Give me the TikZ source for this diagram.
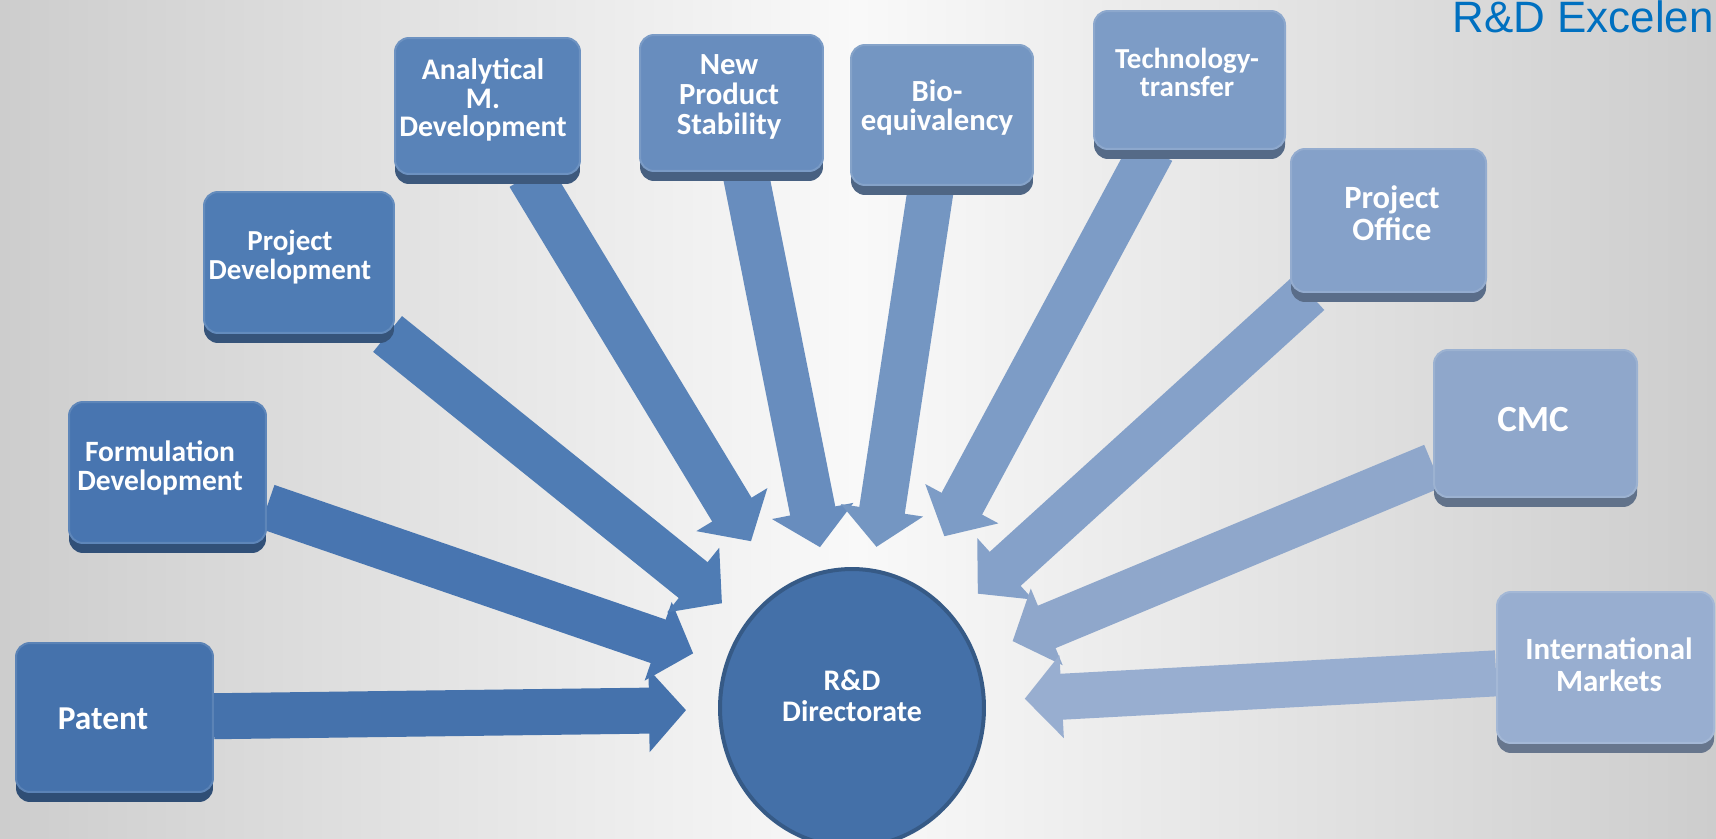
\documentclass[tikz,border=0pt]{standalone}
\usepackage{fontspec}
\setmainfont{Carlito}
\newfontfamily\titlefont{Liberation Sans}
\usetikzlibrary{arrows.meta,shadows,shapes.geometric}
\definecolor{c1}{RGB}{69,114,172}
\definecolor{c2}{RGB}{72,117,176}
\definecolor{c3}{RGB}{79,124,180}
\definecolor{c4}{RGB}{89,131,184}
\definecolor{c5}{RGB}{104,141,190}
\definecolor{c6}{RGB}{116,150,194}
\definecolor{c7}{RGB}{125,156,198}
\definecolor{c8}{RGB}{133,161,201}
\definecolor{c9}{RGB}{143,167,203}
\definecolor{c10}{RGB}{152,174,208}
\definecolor{hubc}{RGB}{68,112,168}
\definecolor{bgedge}{RGB}{205,205,205}
\definecolor{bgmid}{RGB}{249,249,249}
\definecolor{titleblue}{RGB}{0,112,192}
\newcommand\boxfont[2]{\fontsize{#1}{#2}\selectfont\bfseries}
\pgfdeclarelayer{backdrop}
\pgfdeclarelayer{arrowlayer}
\pgfsetlayers{backdrop,arrowlayer,main}
\tikzset{
  box/.style={rounded corners=0.28cm, fill=#1, draw=#1!88!white, line width=0.04cm,
    inner sep=0pt, general shadow={fill=#1!68!black, shadow yshift=-0.2cm}},
  boxtext/.style={text=white, align=center, inner sep=0pt},
  hub/.style={ellipse, fill=hubc, draw=hubc!80!black, line width=0.08cm,
    minimum width=5.28cm, minimum height=5.56cm, inner sep=0pt},
  inarrow/.style={draw=#1, line width=0.92cm, -{Triangle[width=1.62cm,length=0.74cm]}},
  titletext/.style={text=titleblue, font=\titlefont\fontsize{25}{25}\selectfont, inner sep=0pt}
}
\begin{document}
\begin{tikzpicture}[x=0.02cm, y=-0.02cm]
\useasboundingbox (0,0) rectangle (1716,838);
\begin{pgfonlayer}{backdrop}
  \shade[left color=bgedge, right color=bgedge, middle color=bgmid] (0,0) rectangle (1716,838);
\end{pgfonlayer}

\node[titletext, anchor=base east] (title) at (1714,33) {R\&D Excelen};

% hub
\node[hub] (rd) at (852,708) {};
\node[boxtext, font=\boxfont{17}{17.5}] (rdtext) at (852,696) {R\&D\\Directorate};

% boxes
\node[box=c1, minimum width=3.94cm, minimum height=2.98cm] (patent) at (114.5,717.5) {};
\node[box=c2, minimum width=3.94cm, minimum height=2.82cm] (form) at (167.5,472.5) {};
\node[box=c3, minimum width=3.80cm, minimum height=2.82cm] (projdev) at (299,262.5) {};
\node[box=c4, minimum width=3.70cm, minimum height=2.72cm] (anal) at (487.5,106) {};
\node[box=c5, minimum width=3.66cm, minimum height=2.72cm] (nps) at (731.5,103) {};
\node[box=c6, minimum width=3.64cm, minimum height=2.80cm] (bio) at (942,115) {};
\node[box=c7, minimum width=3.82cm, minimum height=2.76cm] (tech) at (1189.5,80) {};
\node[box=c8, minimum width=3.90cm, minimum height=2.86cm] (po) at (1388.5,220.5) {};
\node[box=c9, minimum width=4.06cm, minimum height=2.94cm] (cmc) at (1535.5,423.5) {};
\node[box=c10, minimum width=4.34cm, minimum height=3.02cm] (intl) at (1605.5,667.5) {};

% box labels
\node[boxtext, font=\boxfont{19}{19}] (patenttext) at (103,719) {Patent};
\node[boxtext, font=\boxfont{16.8}{16.7}] (formtext) at (160,468) {Formulation\\Development};
\node[boxtext, font=\boxfont{16.5}{16.7}] (projdevtext) at (290,257) {Project\\Development};
\node[boxtext, font=\boxfont{17}{16.1}] (analtext) at (483,100) {Analytical\\M.\\Development};
\node[boxtext, font=\boxfont{17.5}{17}] (npstext) at (729,97) {New\\Product\\Stability};
\node[boxtext, font=\boxfont{17.5}{16.7}] (biotext) at (937,107.5) {Bio-\\equivalency};
\node[boxtext, font=\boxfont{16.5}{16.1}] (techtext) at (1187,72.5) {Technology-\\transfer};
\node[boxtext, font=\boxfont{18.5}{18}] (potext) at (1392,213) {Project\\Office};
\node[boxtext, font=\boxfont{21}{21}] (cmctext) at (1533,420) {CMC};
\node[boxtext, font=\boxfont{17.6}{18}] (intltext) at (1609,664.5) {International\\Markets};

\begin{pgfonlayer}{arrowlayer}
  \draw[inarrow=c1, shorten >=3.32cm] (patent) -- (rd.center);
  \draw[inarrow=c2, shorten >=3.36cm] (form) -- (rd.center);
  \draw[inarrow=c3, shorten >=3.34cm] (projdev) -- (rd.center);
  \draw[inarrow=c4, shorten >=3.90cm] (anal) -- (rd.center);
  \draw[inarrow=c5, shorten >=3.28cm] (nps) -- (rd.center);
  \draw[inarrow=c6, shorten >=3.26cm] (bio) -- (rd.center);
  \draw[inarrow=c7, shorten >=3.90cm] (tech) -- (rd.center);
  \draw[inarrow=c8, shorten >=3.40cm] (po) -- (rd.center);
  \draw[inarrow=c9, shorten >=3.48cm] (cmc) -- (rd.center);
  \draw[inarrow=c10, shorten >=3.46cm] (intl) -- (rd.center);
\end{pgfonlayer}
\end{tikzpicture}
\end{document}
